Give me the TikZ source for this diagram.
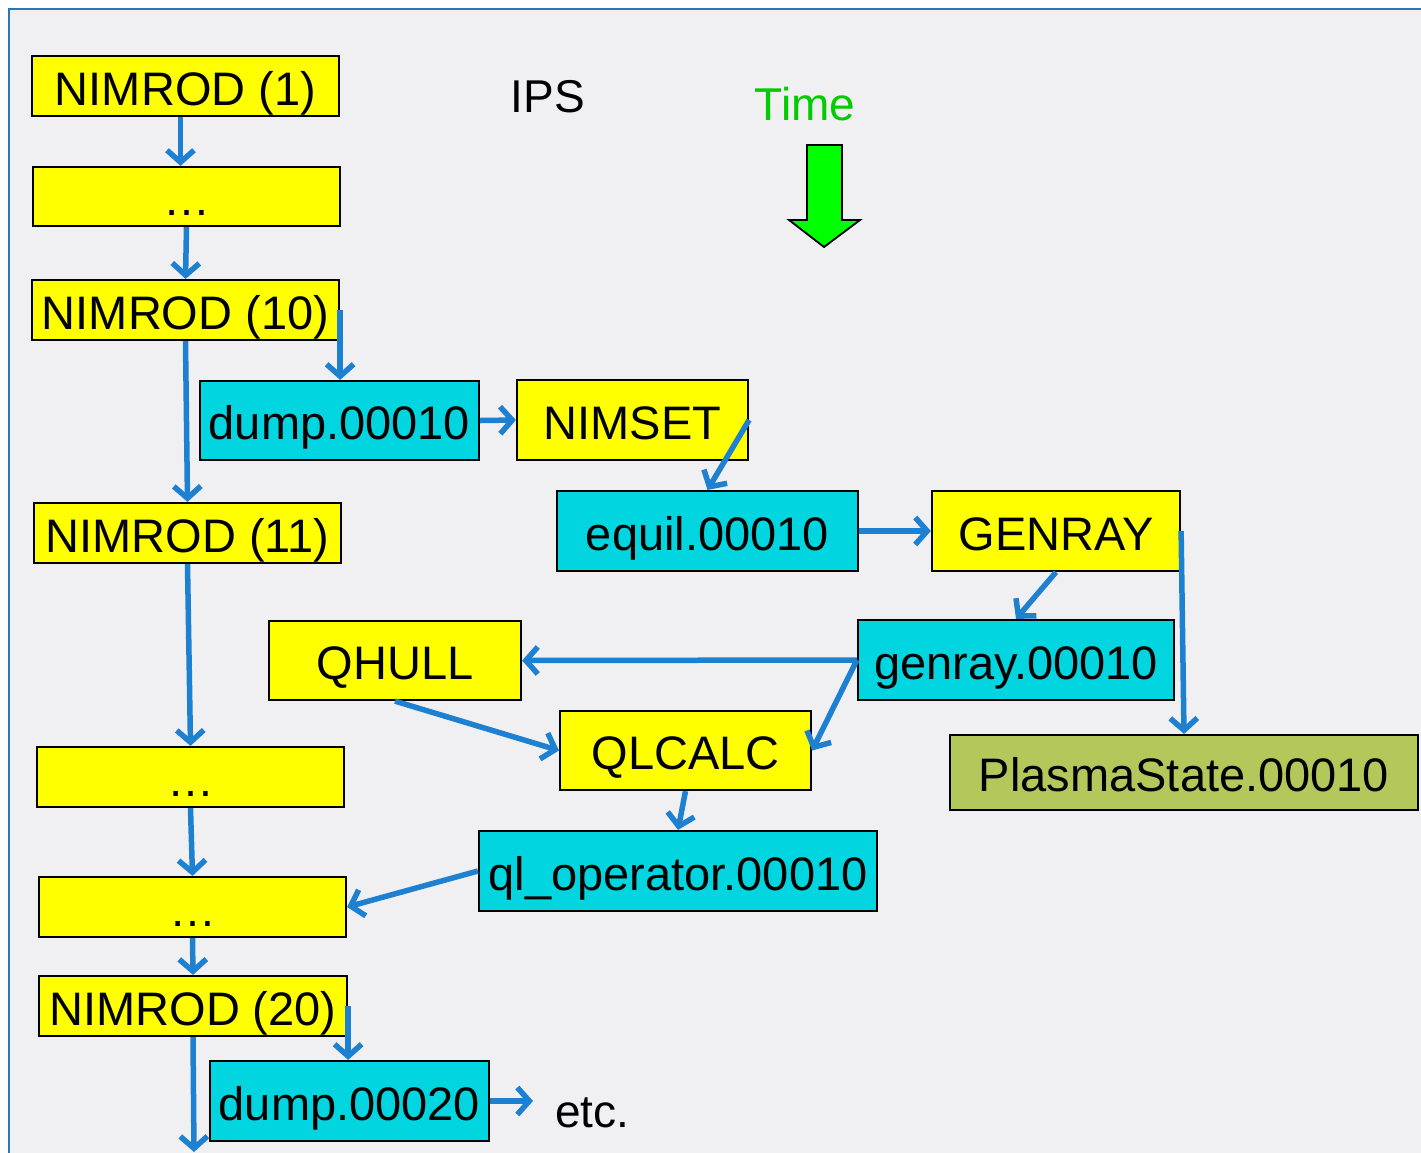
\documentclass[tikz,border=0pt]{standalone}
\usepackage{fontspec}
\setmainfont{Liberation Sans}
\usetikzlibrary{arrows.meta,calc}
\definecolor{bgpanel}{HTML}{F0F0F2}
\definecolor{framebl}{HTML}{2E75B6}
\definecolor{arrbl}{HTML}{1E80D0}
\definecolor{boxyel}{HTML}{FFFF00}
\definecolor{boxcyan}{HTML}{00D5E0}
\definecolor{boxolive}{HTML}{B2C85A}
\definecolor{timegreen}{HTML}{00CC00}
\definecolor{blockgreen}{HTML}{00FF00}
\tikzset{
  box/.style={draw=black, line width=2.2pt, inner sep=0pt, text height=40pt, text depth=2pt,
    font=\fontsize{47pt}{50pt}\selectfont},
  ybox/.style={box, fill=boxyel},
  cbox/.style={box, fill=boxcyan},
  gbox/.style={box, fill=boxolive},
  lbl/.style={inner sep=0pt, font=\fontsize{46pt}{50pt}\selectfont},
  flow/.style={draw=arrbl, line width=5.5pt, -{Straight Barb[length=12pt,width=27pt,line width=5.5pt]}},
}
\begin{document}
\begin{tikzpicture}[x=1pt,y=-1pt]
\useasboundingbox (0,0) rectangle (1421,1152);
\fill[white] (0,0) rectangle (1421,1152);
\draw[fill=bgpanel, draw=framebl, line width=2.8pt] (9,9) rectangle (1440,1170);

% labels
\node[lbl] (ips) at (548,97) {IPS};
\node[lbl, text=timegreen] (time) at (805,104) {Time};
\draw[fill=blockgreen, draw=black, line width=1.8pt]
  (807,145) -- (842,145) -- (842,220) -- (860,220) -- (824,247) -- (789,220) -- (807,220) -- cycle;

% boxes
\node[ybox, minimum width=307pt, minimum height=60pt] (n1) at (185.5,86) {NIMROD (1)};
\node[ybox, minimum width=307pt, minimum height=59pt] (d1) at (186.5,196.5) {\ldots};
\node[ybox, minimum width=307pt, minimum height=60pt] (n10) at (185.5,310) {NIMROD (10)};
\node[cbox, minimum width=279pt, minimum height=79pt] (dump10) at (339.5,420.5) {dump.00010};
\node[ybox, minimum width=231pt, minimum height=80pt] (nimset) at (632.5,420) {NIMSET};
\node[cbox, minimum width=301pt, minimum height=80pt] (equil) at (707.5,531) {equil.00010};
\node[ybox, minimum width=248pt, minimum height=80pt] (genray) at (1056,531) {GENRAY};
\node[ybox, minimum width=307pt, minimum height=60pt] (n11) at (187.5,533) {NIMROD (11)};
\node[ybox, minimum width=252pt, minimum height=79pt] (qhull) at (395,660.5) {QHULL};
\node[cbox, minimum width=316pt, minimum height=80pt] (genr) at (1016,660) {genray.00010};
\node[ybox, minimum width=251pt, minimum height=79pt] (qlcalc) at (685.5,750.5) {QLCALC};
\node[gbox, minimum width=468pt, minimum height=75pt] (plasma) at (1184,772.5) {PlasmaState.00010};
\node[ybox, minimum width=307pt, minimum height=60pt] (d2) at (190.5,777) {\ldots};
\node[cbox, minimum width=398pt, minimum height=80pt] (qlop) at (678,871) {ql\_operator.00010};
\node[ybox, minimum width=307pt, minimum height=60pt] (d3) at (192.5,907) {\ldots};
\node[ybox, minimum width=308pt, minimum height=60pt] (n20) at (193,1006) {NIMROD (20)};
\node[cbox, minimum width=279pt, minimum height=80pt] (dump20) at (349.5,1101) {dump.00020};
\node[lbl, anchor=west] (etc) at (555,1113) {etc.};
\coordinate (down) at (194,1152);

% connectors
\draw[flow] ([xshift=-5pt]n1.south) -- ([xshift=-6pt]d1.north);
\draw[flow] (d1.south) -- (n10.north);
\draw[flow] (n10.east) -- (n10.east |- dump10.north);
\draw[flow] (n10.south) -- (n11.north);
\draw[flow] (dump10.east) -- (nimset.west);
\draw[flow] (nimset.east) -- (equil.north);
\draw[flow] (equil.east) -- (genray.west);
\draw[flow] (genray.south) -- (genr.north);
\draw[flow] (genray.east) -- (plasma.north);
\draw[flow] (genr.west) -- (qhull.east);
\draw[flow] (genr.west) -- (qlcalc.east);
\draw[flow] (qhull.south) -- (qlcalc.west);
\draw[flow] (qlcalc.south) -- (qlop.north);
\draw[flow] (n11.south) -- (d2.north);
\draw[flow] (d2.south) -- (d3.north);
\draw[flow] (qlop.west) -- (d3.east);
\draw[flow] (d3.south) -- (n20.north);
\draw[flow] (n20.east) -- (n20.east |- dump20.north);
\draw[flow] (n20.south) -- (down);
\draw[flow, shorten >=22pt] (dump20.east) -- (dump20.east -| etc.west);
\end{tikzpicture}
\end{document}
